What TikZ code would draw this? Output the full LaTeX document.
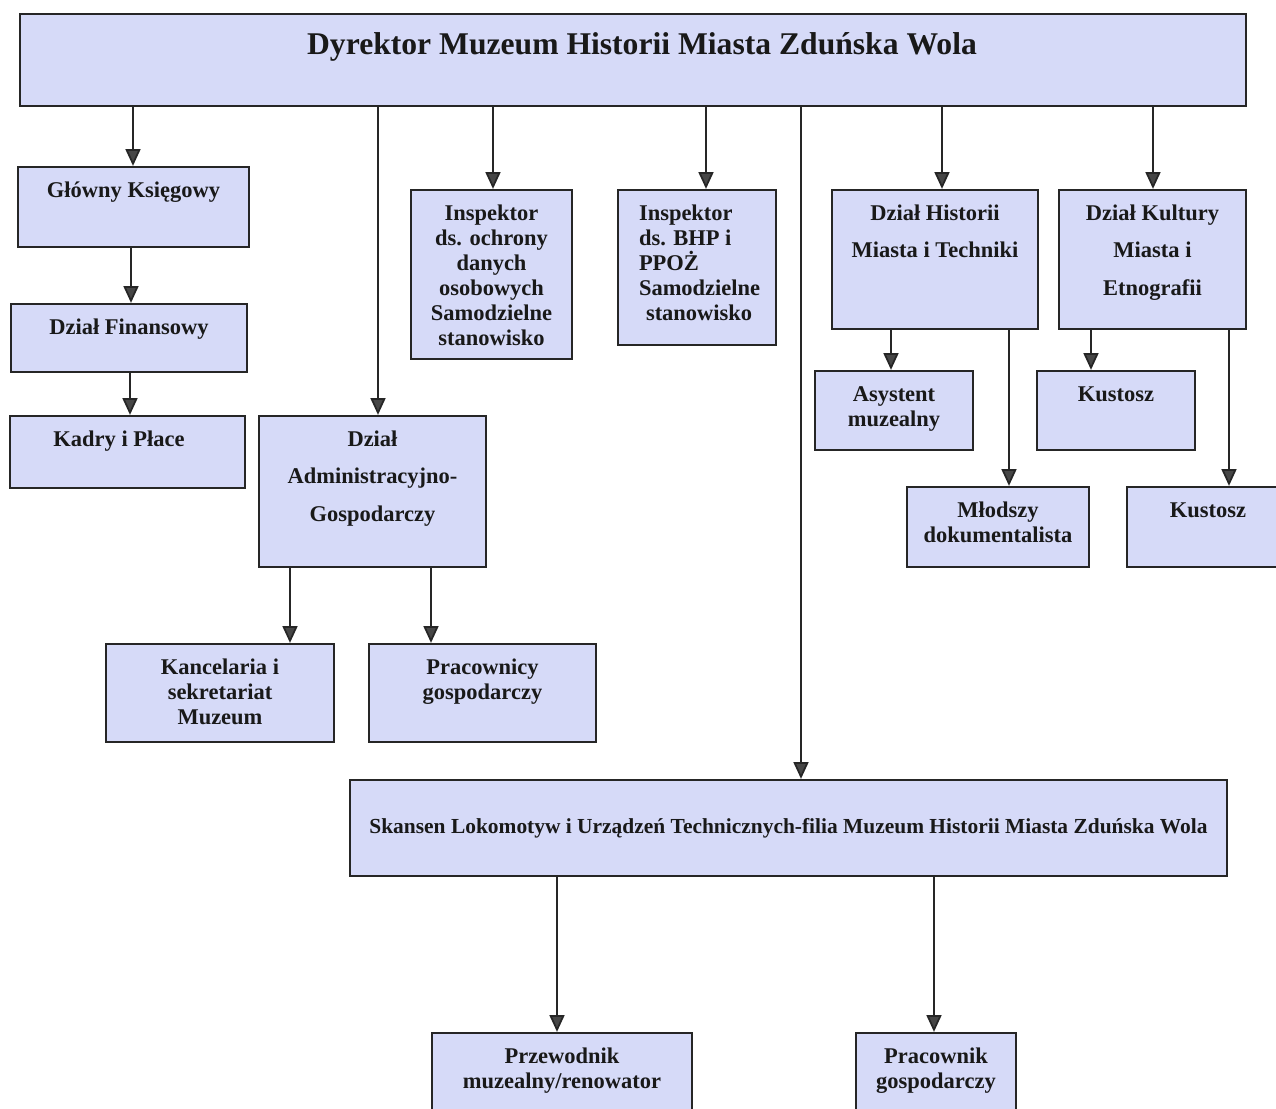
\documentclass[tikz,border=0pt]{standalone}
\usepackage{fontspec}
\setmainfont{Liberation Serif}
\usetikzlibrary{arrows.meta}
\definecolor{boxfill}{RGB}{214,218,248}
\definecolor{boxline}{RGB}{38,38,38}
\definecolor{tipgray}{RGB}{70,70,70}
\newlength\pxu
\setlength\pxu{0.02cm}
\newcommand{\boxtxt}[4][\centering]{\parbox[c][#3\pxu][t]{#2\pxu}{#1\vspace*{7.5pt}\strut#4}}
\tikzset{orgbox/.style={draw=boxline, fill=boxfill, line width=1.3pt, inner sep=0pt,
    text=black!90, font=\bfseries\fontsize{12.8}{14.2}\selectfont},
    arr/.style={line width=1pt, draw=black!85, -{Triangle[width=8.5pt,length=9.5pt,fill=tipgray]}},
    }

\begin{document}
\begin{tikzpicture}[x=0.02cm,y=-0.02cm]
	\clip (0,0) rectangle (1276,1109);
	\fill[white] (0,0) rectangle (1276,1109);
	\node[orgbox] (dyr) at (633,60) {\parbox[c][92\pxu][t]{1226\pxu}{\centering\fontsize{18}{20}\selectfont\vspace*{9pt}\strut\hspace*{18\pxu}Dyrektor Muzeum Historii Miasta Zduńska Wola}};
	% lewa kolumna
	\node[orgbox] (glowny) at (133.5,207) {\boxtxt{231}{80}{Główny Księgowy}};
	\node[orgbox] (finans) at (129,338) {\boxtxt{236}{68}{Dział Finansowy}};
	\node[orgbox] (kadry) at (127.5,452) {\boxtxt{235}{72}{Kadry i Płace\hspace*{17\pxu}}};
	\node[orgbox] (ochrona) at (491.5,274.5) {\boxtxt{161}{169}{Inspektor\\ds. ochrony\\danych\\osobowych\\Samodzielne\\stanowisko}};
	\node[orgbox] (bhp) at (697,267.5) {\boxtxt[\raggedright\leftskip=21\pxu\relax]{158}{155}{Inspektor\\ds. BHP i\\PPOŻ\\Samodzielne\\\hspace*{7\pxu}stanowisko}};
	\node[orgbox] (admin) at (372.5,491.5) {\boxtxt{227}{151}{Dział\\[7pt]Administracyjno-\\[7pt]Gospodarczy}};
	\node[orgbox] (kancel) at (220,693) {\boxtxt{228}{98}{Kancelaria i\\sekretariat\\Muzeum}};
	\node[orgbox] (pracownicy) at (482.5,693) {\boxtxt{227}{98}{Pracownicy\\gospodarczy}};
	% prawa strona
	\node[orgbox] (historii) at (935,259.5) {\boxtxt{206}{139}{Dział Historii\\[7pt]Miasta i Techniki}};
	\node[orgbox] (kultury) at (1152.5,259.5) {\boxtxt{187}{139}{Dział Kultury\\[7pt]Miasta i\\[7pt]Etnografii}};
	\node[orgbox] (asystent) at (894,410.5) {\boxtxt{158}{79}{Asystent\\muzealny}};
	\node[orgbox] (kustoszA) at (1116,410.5) {\boxtxt{158}{79}{Kustosz}};
	\node[orgbox] (mlodszy) at (998,527) {\boxtxt{182}{80}{Młodszy\\dokumentalista}};
	\node[orgbox] (kustoszB) at (1208,527) {\boxtxt{162}{80}{Kustosz}};
	% filia
	\node[orgbox, minimum width=877\pxu, minimum height=96\pxu, font=\bfseries\fontsize{12.2}{14}\selectfont] (skansen) at (788.5,828) {Skansen Lokomotyw i Urządzeń Technicznych-filia Muzeum Historii Miasta Zduńska Wola};
	\node[orgbox] (przewodnik) at (562,1083) {\boxtxt{260}{100}{Przewodnik\\muzealny/renowator}};
	\node[orgbox] (pracownik) at (936,1083) {\boxtxt{160}{100}{Pracownik\\gospodarczy}};

	\draw[arr] (133,0 |- dyr.south) -- (133,0 |- glowny.north);
	\draw[arr] (378,0 |- dyr.south) -- (378,0 |- admin.north);
	\draw[arr] (493,0 |- dyr.south) -- (493,0 |- ochrona.north);
	\draw[arr] (706,0 |- dyr.south) -- (706,0 |- bhp.north);
	\draw[arr] (801,0 |- dyr.south) -- (801,0 |- skansen.north);
	\draw[arr] (942,0 |- dyr.south) -- (942,0 |- historii.north);
	\draw[arr] (1153,0 |- dyr.south) -- (1153,0 |- kultury.north);
	\draw[arr] (131,0 |- glowny.south) -- (131,0 |- finans.north);
	\draw[arr] (130,0 |- finans.south) -- (130,0 |- kadry.north);
	\draw[arr] (290,0 |- admin.south) -- (290,0 |- kancel.north);
	\draw[arr] (431,0 |- admin.south) -- (431,0 |- pracownicy.north);
	\draw[arr] (891,0 |- historii.south) -- (891,0 |- asystent.north);
	\draw[arr] (1009,0 |- historii.south) -- (1009,0 |- mlodszy.north);
	\draw[arr] (1091,0 |- kultury.south) -- (1091,0 |- kustoszA.north);
	\draw[arr] (1229,0 |- kultury.south) -- (1229,0 |- kustoszB.north);
	\draw[arr] (557,0 |- skansen.south) -- (557,0 |- przewodnik.north);
	\draw[arr] (934,0 |- skansen.south) -- (934,0 |- pracownik.north);
\end{tikzpicture}
\end{document}
